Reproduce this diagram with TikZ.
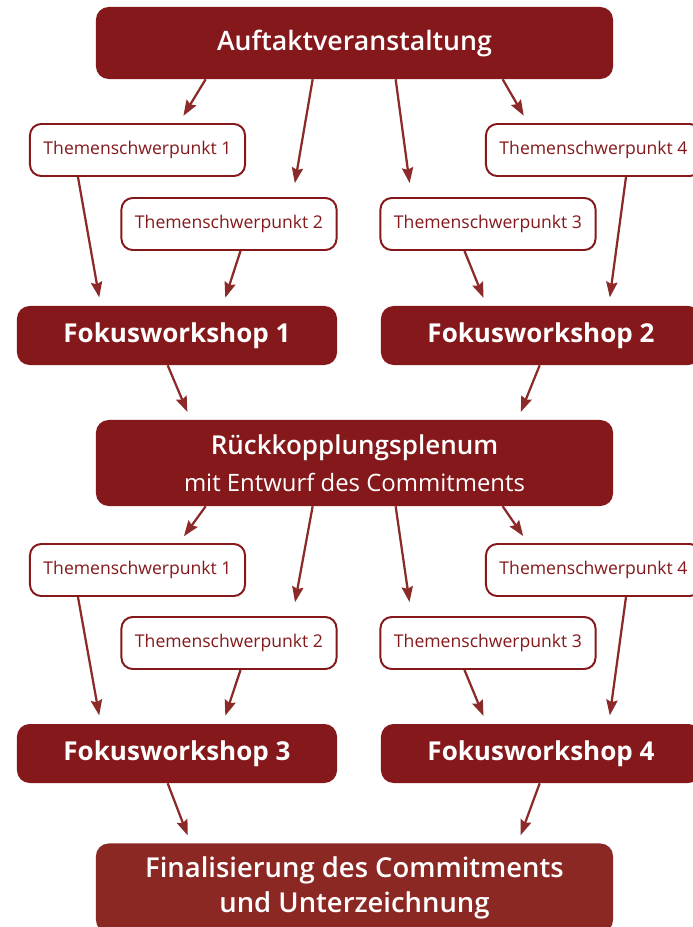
\documentclass[tikz,border=0pt]{standalone}
\usepackage{fontspec}
\setmainfont{Open Sans}
\IfFontExistsTF{Open Sans SemiBold}{\newfontfamily\headfont{Open Sans SemiBold}}{%
  \IfFontExistsTF{Open Sans Semibold}{\newfontfamily\headfont{Open Sans Semibold}}{%
    \newfontfamily\headfont[FakeBold=3]{Open Sans}}}
\usetikzlibrary{arrows.meta,calc}
\definecolor{boxRed}{RGB}{133,24,27}
\definecolor{finRed}{RGB}{140,40,36}
\definecolor{arrowRed}{RGB}{140,42,42}

\begin{document}
\begin{tikzpicture}[x=0.025cm,y=-0.025cm,
  phase/.style={rectangle,fill=boxRed,rounded corners=9pt,text=white,inner sep=0pt,
                minimum width=12.925cm,align=center,font=\headfont\fontsize{19}{26}\selectfont},
  topic/.style={rectangle,draw=boxRed,line width=1.4pt,fill=white,rounded corners=8pt,
                text=boxRed,inner sep=0pt,minimum width=5.375cm,minimum height=1.3cm,
                font=\fontsize{12.5}{15}\selectfont},
  work/.style={rectangle,fill=boxRed,rounded corners=9pt,text=white,inner sep=0pt,
               minimum width=8cm,minimum height=1.475cm,font=\bfseries\fontsize{18.5}{22}\selectfont},
  arr/.style={-{Stealth[length=11pt,width=8pt,inset=1.5pt]},line width=1.6pt,draw=arrowRed,
              shorten >=6pt},
  farr/.style={arr,shorten >=10pt}
]
  \useasboundingbox (0,0) rectangle (692,927);
  % upper half
  \node[phase,minimum height=1.8cm](auft) at (354.5,43) {Auftaktveranstaltung};
  \node[topic](t1a) at (137.5,150) {Themenschwerpunkt 1};
  \node[topic](t2a) at (229,224)   {Themenschwerpunkt 2};
  \node[topic](t3a) at (488,224)   {Themenschwerpunkt 3};
  \node[topic](t4a) at (593.5,150) {Themenschwerpunkt 4};
  \node[work](fw1) at (177,335.5) {Fokusworkshop 1};
  \node[work](fw2) at (541,335.5) {Fokusworkshop 2};
  \node[phase,minimum height=2.15cm,font=\headfont\fontsize{18.5}{26}\selectfont](rueck) at (354.5,463)
       {Rückkopplungsplenum\\{\normalfont\fontsize{17}{20}\selectfont mit Entwurf des Commitments}};
  % lower half
  \node[topic](t1b) at (137.5,570) {Themenschwerpunkt 1};
  \node[topic](t2b) at (229,643)   {Themenschwerpunkt 2};
  \node[topic](t3b) at (488,643)   {Themenschwerpunkt 3};
  \node[topic](t4b) at (593.5,570) {Themenschwerpunkt 4};
  \node[work](fw3) at (177,753.5) {Fokusworkshop 3};
  \node[work](fw4) at (541,753.5) {Fokusworkshop 4};
  \node[phase,fill=finRed,minimum height=2.225cm,
        font=\headfont\fontsize{19.5}{25}\selectfont](fin) at (354.5,888)
       {Finalisierung des Commitments\\und Unterzeichnung};

  \draw[arr]($(auft.south west)+(110,0)$)--($(t1a.north west)+(150,0)$);
  \draw[farr]($(auft.south west)+(217,0)$)--($(t2a.north west)+(172,0)$);
  \draw[farr]($(auft.south west)+(300,0)$)--($(t3a.north west)+(32,0)$);
  \draw[arr]($(auft.south west)+(407,0)$)--($(t4a.north west)+(43,0)$);
  \draw[arr]($(t1a.south west)+(49,0)$)--($(fw1.north west)+(84,0)$);
  \draw[arr]($(t2a.south west)+(120,0)$)--($(fw1.north west)+(206,0)$);
  \draw[arr]($(t3a.south west)+(85,0)$)--($(fw2.north west)+(106,0)$);
  \draw[arr]($(t4a.south west)+(141,0)$)--($(fw2.north west)+(228,0)$);
  \draw[arr]($(fw1.south west)+(151,0)$)--($(rueck.north west)+(95,0)$);
  \draw[arr]($(fw2.south west)+(159,0)$)--($(rueck.north west)+(422,0)$);

  \draw[arr]($(rueck.south west)+(110,0)$)--($(t1b.north west)+(150,0)$);
  \draw[farr]($(rueck.south west)+(217,0)$)--($(t2b.north west)+(172,0)$);
  \draw[farr]($(rueck.south west)+(300,0)$)--($(t3b.north west)+(32,0)$);
  \draw[arr]($(rueck.south west)+(407,0)$)--($(t4b.north west)+(43,0)$);
  \draw[arr]($(t1b.south west)+(49,0)$)--($(fw3.north west)+(84,0)$);
  \draw[arr]($(t2b.south west)+(120,0)$)--($(fw3.north west)+(206,0)$);
  \draw[arr]($(t3b.south west)+(85,0)$)--($(fw4.north west)+(106,0)$);
  \draw[arr]($(t4b.south west)+(141,0)$)--($(fw4.north west)+(228,0)$);
  \draw[arr]($(fw3.south west)+(151,0)$)--($(fin.north west)+(95,0)$);
  \draw[arr]($(fw4.south west)+(159,0)$)--($(fin.north west)+(422,0)$);
\end{tikzpicture}
\end{document}
